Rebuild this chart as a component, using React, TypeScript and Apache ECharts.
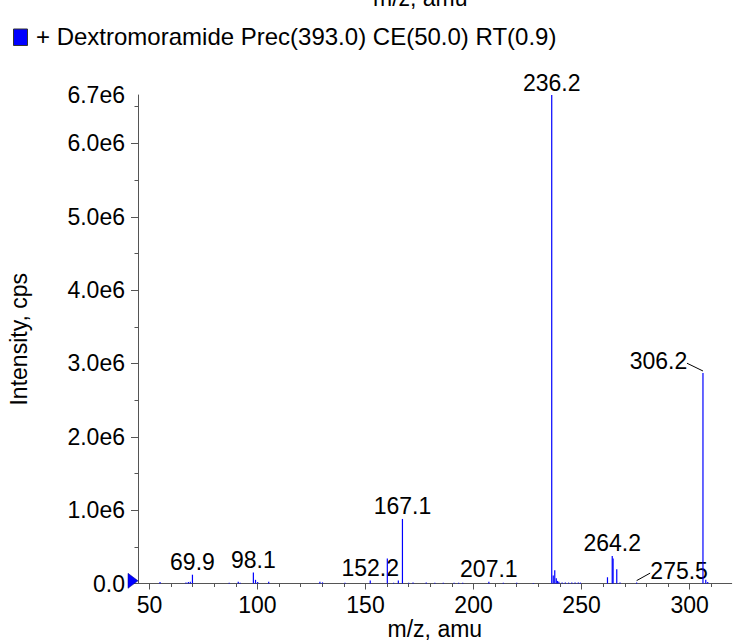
import React, { useEffect, useRef } from "react";
import * as echarts from "echarts";

// ---------- data ----------
const spectrumName = "+ Dextromoramide Prec(393.0) CE(50.0) RT(0.9)";
const xAxisTitle = "m/z, amu";
const yAxisTitle = "Intensity, cps";

const mzValues = [
  54.9, 66.9, 68.0, 68.9, 69.9, 86.9, 91.1, 92.0, 98.1, 99.1, 100.1, 105.2,
  128.9, 130.1, 140.5, 152.2, 160.1, 163.0, 165.2, 167.1, 170.0, 172.0, 178.1,
  182.1, 186.0, 191.0, 193.1, 195.0, 207.1, 213.8, 220.0, 227.7, 236.2, 236.9,
  237.6, 238.3, 238.9, 239.5, 241.0, 242.5, 244.0, 245.5, 247.0, 248.5, 249.5,
  262.0, 264.2, 264.6, 266.3, 267.8, 275.5, 306.2, 307.5, 308.4,
];
const intensityValues = [
  0.02e6, 0.015e6, 0.02e6, 0.025e6, 0.12e6, 0.01e6, 0.025e6, 0.01e6, 0.15e6,
  0.05e6, 0.02e6, 0.025e6, 0.025e6, 0.015e6, 0.01e6, 0.04e6, 0.34e6, 0.01e6,
  0.04e6, 0.88e6, 0.01e6, 0.015e6, 0.015e6, 0.01e6, 0.01e6, 0.01e6, 0.01e6,
  0.01e6, 0.025e6, 0.01e6, 0.01e6, 0.008e6, 6.66e6, 0.11e6, 0.18e6, 0.07e6,
  0.035e6, 0.025e6, 0.012e6, 0.012e6, 0.012e6, 0.012e6, 0.012e6, 0.012e6,
  0.012e6, 0.085e6, 0.375e6, 0.34e6, 0.195e6, 0.012e6, 0.012e6, 2.87e6,
  0.05e6, 0.02e6,
];
const labelledPeaks = [69.9, 98.1, 152.2, 167.1, 207.1, 236.2, 264.2, 275.5, 306.2];

const xTickValues = [50, 100, 150, 200, 250, 300];
const yTickValues = [0, 1e6, 2e6, 3e6, 4e6, 5e6, 6e6];
const xMin = 44.7;
const xMax = 319.5;
const yMax = 6.66e6;

// ---------- styles ----------
const FONT = "'Liberation Sans', Arial, Helvetica, sans-serif";
const BLUE = "#0000ff";
const AXIS = "#555555";
const FS = 23;

// label placement tweaks for displaced labels (pixels relative to peak top)
const displacedLabels: Record<string, { dx: number; dy: number; lx1: number; ly1: number; lx2: number; ly2: number }> = {
  "275.5": { dx: 42.5, dy: -11.5, lx1: 0, ly1: -2, lx2: 13.5, ly2: -9.5 },
  "306.2": { dx: -44.5, dy: -12, lx1: -16, ly1: -9.8, lx2: 0, ly2: -2 },
};

export default function App() {
  const ref = useRef<HTMLDivElement>(null);

  useEffect(() => {
    if (!ref.current) return;
    const chart = echarts.init(ref.current, undefined, { renderer: "svg" });

    const renderItem = (params: any, api: any) => {
      const idx = params.dataIndex;
      const mz = api.value(0);
      const inten = api.value(1);
      const base = api.coord([mz, 0]);
      const top = api.coord([mz, inten]);
      const children: any[] = [
        {
          type: "line",
          shape: { x1: base[0], y1: base[1], x2: top[0], y2: top[1] },
          style: { stroke: BLUE, lineWidth: 1.2 },
        },
      ];
      const m = mzValues[idx];
      if (labelledPeaks.includes(m)) {
        const txt = m.toFixed(1);
        const d = displacedLabels[txt];
        if (d) {
          children.push({
            type: "text",
            x: top[0] + d.dx,
            y: top[1] + d.dy,
            style: {
              text: txt,
              fill: "#000",
              fontSize: FS,
              fontFamily: FONT,
              textAlign: "center",
              textVerticalAlign: "middle",
            },
          });
          children.push({
            type: "line",
            shape: {
              x1: top[0] + d.lx1,
              y1: top[1] + d.ly1,
              x2: top[0] + d.lx2,
              y2: top[1] + d.ly2,
            },
            style: { stroke: "#000", lineWidth: 1 },
          });
        } else {
          children.push({
            type: "text",
            x: top[0],
            y: top[1] - 1,
            style: {
              text: txt,
              fill: "#000",
              fontSize: FS,
              fontFamily: FONT,
              textAlign: "center",
              textVerticalAlign: "bottom",
            },
          });
        }
      }
      return { type: "group", children };
    };

    const tickStyle = { color: AXIS, width: 1 };

    chart.setOption({
      animation: false,
      backgroundColor: "#ffffff",
      textStyle: { fontFamily: FONT },
      grid: {
        left: 138,
        right: 8.3,
        top: 95,
        bottom: 58.5,
        containLabel: false,
        outerBoundsMode: "none",
      },
      graphic: [
        {
          type: "text",
          left: 420 - 47,
          top: -14,
          style: { text: xAxisTitle, fill: "#000", fontSize: FS, fontFamily: FONT },
        },
        {
          type: "rect",
          shape: { x: 13.5, y: 29, width: 14, height: 16.5 },
          style: { fill: BLUE, stroke: "#333", lineWidth: 1 },
        },
        {
          type: "text",
          x: 36,
          y: 36.5,
          style: {
            text: spectrumName,
            fill: "#000",
            fontSize: 24,
            fontFamily: FONT,
            textAlign: "left",
            textVerticalAlign: "middle",
          },
        },
      ],
      xAxis: {
        type: "value",
        min: xMin,
        max: xMax,
        minInterval: 50,
        maxInterval: 50,
        name: xAxisTitle,
        nameLocation: "middle",
        nameGap: 34,
        nameMoveOverlap: false,
        nameTextStyle: { fontSize: FS, color: "#000", fontFamily: FONT },
        axisLine: { show: true, onZero: false, lineStyle: { color: AXIS, width: 1 } },
        axisTick: { show: true, length: 6, customValues: xTickValues, lineStyle: tickStyle },
        minorTick: { show: true, splitNumber: 5, length: 3.5, lineStyle: tickStyle },
        axisLabel: {
          customValues: xTickValues,
          margin: 10,
          fontSize: FS,
          color: "#000",
          fontFamily: FONT,
        },
        splitLine: { show: false },
        minorSplitLine: { show: false },
      },
      yAxis: {
        type: "value",
        min: 0,
        max: yMax,
        interval: 1e6,
        name: yAxisTitle,
        nameLocation: "middle",
        nameGap: 108,
        nameMoveOverlap: false,
        nameTextStyle: { fontSize: FS, color: "#000", fontFamily: FONT },
        axisLine: { show: true, lineStyle: { color: AXIS, width: 1 } },
        axisTick: { show: true, length: 7, customValues: yTickValues, lineStyle: tickStyle },
        minorTick: { show: true, splitNumber: 2, length: 3.5, lineStyle: tickStyle },
        axisLabel: {
          customValues: [...yTickValues, yMax],
          margin: 13,
          fontSize: FS,
          color: "#000",
          fontFamily: FONT,
          padding: [5, 0, 0, 0],
          formatter: (v: number) => (v === 0 ? "0.0" : (v / 1e6).toFixed(1) + "e6"),
        },
        splitLine: { show: false },
        minorSplitLine: { show: false },
      },
      series: [
        {
          type: "custom",
          name: spectrumName,
          coordinateSystem: "cartesian2d",
          data: mzValues.map((m, i) => [m, intensityValues[i]]),
          encode: { x: 0, y: 1 },
          renderItem,
          clip: false,
          itemStyle: { color: BLUE },
          markPoint: {
            silent: true,
            symbol: "triangle",
            symbolSize: [15, 10],
            symbolRotate: -90,
            symbolOffset: [-5, -2.7],
            itemStyle: { color: BLUE, borderColor: "#000080", borderWidth: 0.5 },
            label: { show: false },
            data: [{ coord: [xMin, 0] }],
          },
        },
      ],
    });

    return () => chart.dispose();
  }, []);

  return (
    <div
      ref={ref}
      style={{ position: "absolute", left: 0, top: 0, width: 740, height: 642, background: "#fff" }}
    />
  );
}
